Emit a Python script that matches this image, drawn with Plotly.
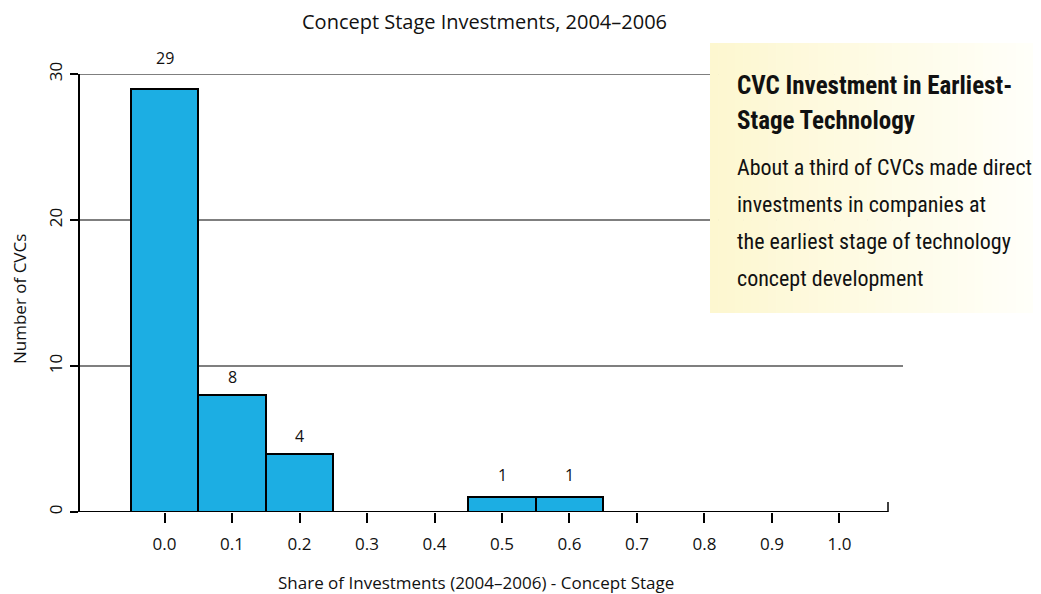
import plotly.graph_objects as go

# ---- data ----
bin_centers = [0.0, 0.1, 0.2, 0.3, 0.4, 0.5, 0.6, 0.7, 0.8, 0.9, 1.0]
counts = [29, 8, 4, 0, 0, 1, 1, 0, 0, 0, 0]
x_tick_vals = [0.0, 0.1, 0.2, 0.3, 0.4, 0.5, 0.6, 0.7, 0.8, 0.9, 1.0]
x_tick_text = ["0.0", "0.1", "0.2", "0.3", "0.4", "0.5", "0.6", "0.7", "0.8", "0.9", "1.0"]
y_tick_vals = [0, 10, 20, 30]
title_text = "Concept Stage Investments, 2004\u20132006"
x_title = "Share of Investments (2004\u20132006) - Concept Stage"
y_title = "Number of CVCs"
box_title_lines = ["CVC Investment in Earliest-", "Stage Technology"]
box_body_lines = ["About a third of CVCs made direct", "investments in companies at",
                  "the earliest stage of technology", "concept development"]

# ---- styling / layout (window pixel coordinates; page body has an 8px margin) ----
BAR_COLOR = "#1CAEE3"
FONT = "Open Sans, Noto Sans, sans-serif"
NARROW = "Liberation Sans Narrow, Roboto Condensed, Roboto, sans-serif"
OFF = 8
W, H = 1041 - OFF, 594 - OFF
PLOT_L, PLOT_R, PLOT_T, PLOT_B = 80, 903, 74, 512  # window px
L, R, T, B = PLOT_L - OFF, W - (PLOT_R - OFF), PLOT_T - OFF, H - (PLOT_B - OFF)
PW, PH = W - L - R, H - T - B

def px_x(p):
    return (p - OFF - L) / PW

def px_y(p):
    return (H - B - (p - OFF)) / PH

fig = go.Figure()
fig.add_trace(go.Bar(
    x=bin_centers, y=counts, width=0.1,
    marker=dict(color=BAR_COLOR, line=dict(color="black", width=2)),
    hoverinfo="x+y", showlegend=False,
))

shapes = []
# gridlines
for v in y_tick_vals[1:]:
    shapes.append(dict(type="line", xref="paper", yref="y", x0=px_x(72), x1=px_x(903),
                       y0=v, y1=v, line=dict(color="black", width=1.2), layer="below"))
# baseline (x axis line) with end tick
shapes.append(dict(type="line", xref="paper", yref="y", x0=0, x1=px_x(888), y0=0, y1=0,
                   line=dict(color="black", width=2.2), layer="above"))
shapes.append(dict(type="line", xref="paper", yref="paper", x0=px_x(888), x1=px_x(888),
                   y0=0, y1=px_y(502), line=dict(color="black", width=1.5), layer="above"))

# gradient annotation box
bx0, bx1, by0, by1 = 710, 1041, 43, 313
n = 40
c0 = (253, 247, 208)
c1 = (255, 255, 250)
for i in range(n):
    t = i / (n - 1)
    col = tuple(round(c0[k] + (c1[k] - c0[k]) * t) for k in range(3))
    xa = bx0 + (bx1 - bx0) * i / n
    xb = bx0 + (bx1 - bx0) * (i + 1) / n + 0.6
    shapes.append(dict(type="rect", xref="paper", yref="paper",
                       x0=px_x(xa), x1=px_x(xb), y0=px_y(by1), y1=px_y(by0),
                       fillcolor="rgb(%d,%d,%d)" % col, line=dict(width=0), layer="above"))

annotations = []
# bar labels
label_shift = [18, 5, 5, 0, 0, 9, 9, 0, 0, 0, 0]
for xc, c, s in zip(bin_centers, counts, label_shift):
    if c > 0:
        annotations.append(dict(x=xc, y=c, xref="x", yref="y", text=str(c), showarrow=False,
                                yanchor="bottom", yshift=s,
                                font=dict(family=FONT, size=16, color="#111")))
# box text
for i, line in enumerate(box_title_lines):
    annotations.append(dict(x=px_x(735), y=px_y(85 + 35 * i), xref="paper", yref="paper",
                            text="<b>" + line + "</b>", showarrow=False,
                            xanchor="left", yanchor="middle",
                            font=dict(family=NARROW, size=25, color="#111")))
for i, line in enumerate(box_body_lines):
    annotations.append(dict(x=px_x(735), y=px_y(167 + 37.3 * i), xref="paper", yref="paper",
                            text=line, showarrow=False,
                            xanchor="left", yanchor="middle",
                            font=dict(family=NARROW, size=22, color="#111")))
# title
annotations.append(dict(x=px_x(484), y=px_y(22), xref="paper", yref="paper", text=title_text,
                        showarrow=False, xanchor="center", yanchor="middle",
                        font=dict(family=FONT, size=20, color="#111")))
# x title
annotations.append(dict(x=px_x(476), y=px_y(582), xref="paper", yref="paper", text=x_title,
                        showarrow=False, xanchor="center", yanchor="middle",
                        font=dict(family=FONT, size=17, color="#111")))
# y title
annotations.append(dict(x=px_x(19), y=px_y(299), xref="paper", yref="paper", text=y_title,
                        showarrow=False, xanchor="center", yanchor="middle", textangle=-90,
                        font=dict(family=FONT, size=17, color="#111")))

fig.update_layout(
    width=W, height=H,
    margin=dict(l=L, r=R, t=T, b=B, pad=0),
    paper_bgcolor="white", plot_bgcolor="white",
    bargap=0,
    shapes=shapes, annotations=annotations,
    xaxis=dict(range=[-0.1252, 1.0941], tickvals=x_tick_vals, ticktext=x_tick_text,
               ticks="outside", ticklen=10, tickwidth=2, tickcolor="black",
               showgrid=False, zeroline=False, showline=False,
               ticklabelstandoff=7,
               tickfont=dict(family=FONT, size=17, color="#111")),
    yaxis=dict(range=[0, 30], tickvals=y_tick_vals, ticks="outside", ticklen=8,
               tickwidth=1.5, tickcolor="black", tickangle=-90,
               showgrid=False, zeroline=False, showline=True, linecolor="black", linewidth=2.2,
               ticklabelstandoff=1,
               tickfont=dict(family=FONT, size=17, color="#111")),
)

fig.write_html("out.html")
